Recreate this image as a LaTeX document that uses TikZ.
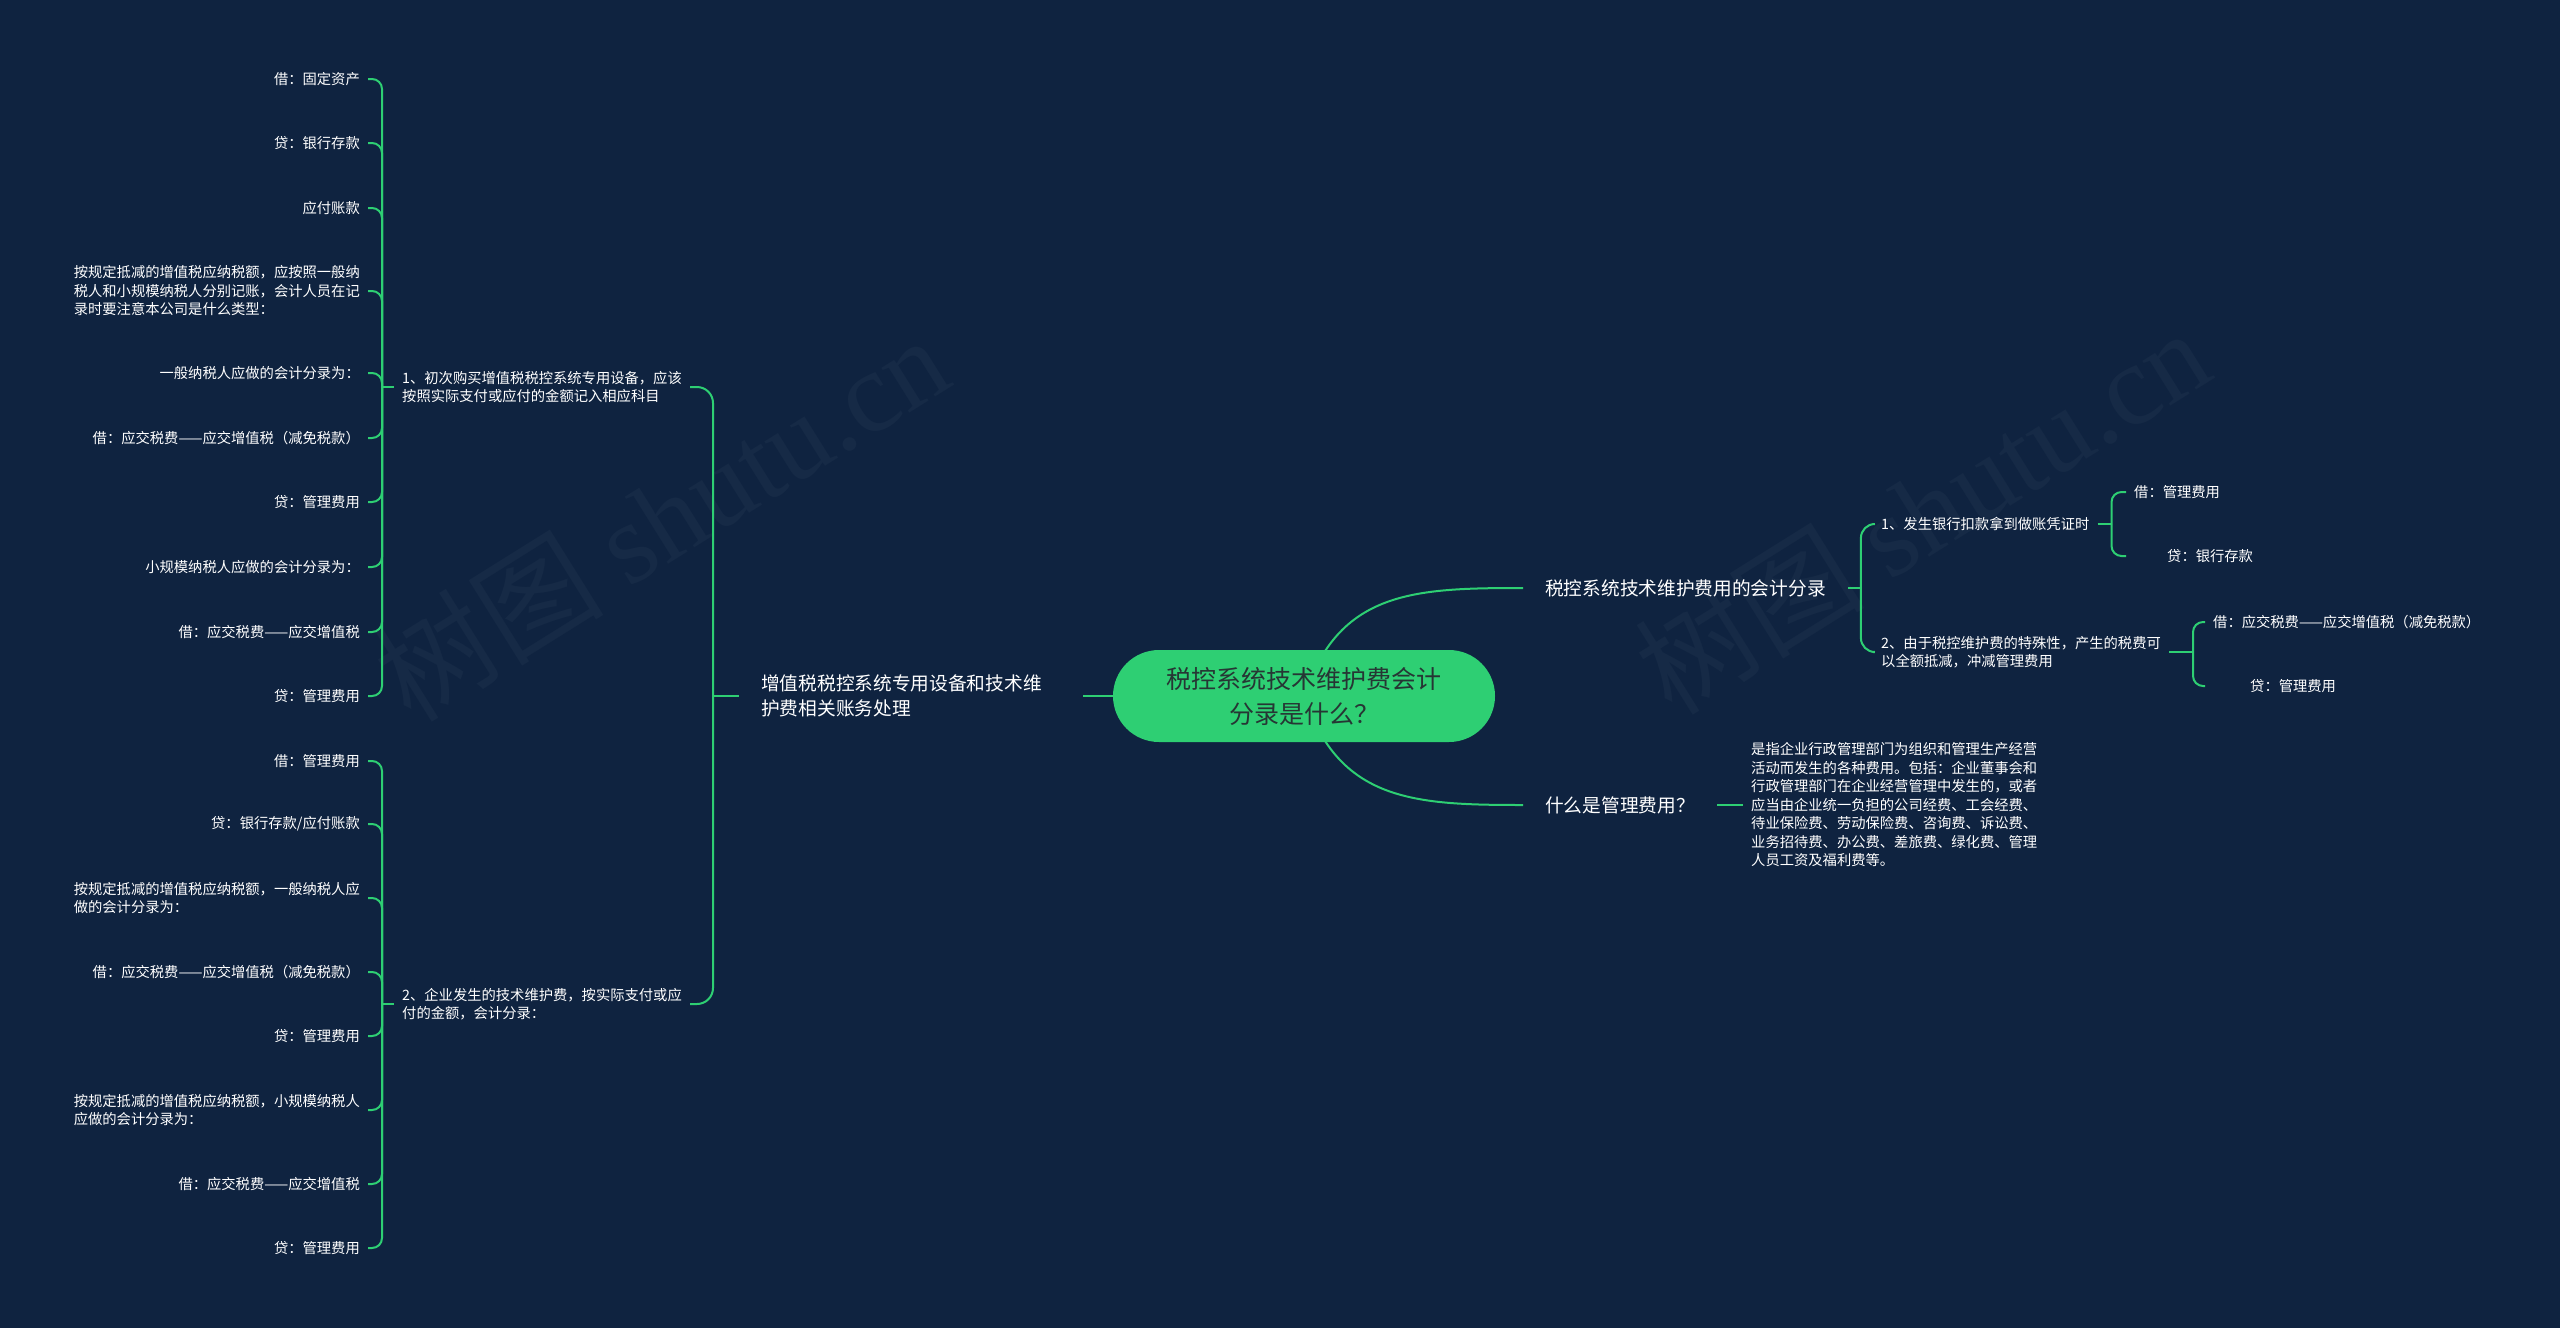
\documentclass[tikz,border=0pt]{standalone}
\usepackage{fontspec}
\setmainfont{Noto Sans CJK SC}
\newfontfamily\wmserif{Liberation Serif}
\usetikzlibrary{backgrounds}
\definecolor{navy}{RGB}{15,35,64}
\definecolor{mint}{RGB}{46,207,115}
\definecolor{inkd}{RGB}{38,54,52}
\definecolor{wmark}{RGB}{22,42,70}

\begin{document}
\begin{tikzpicture}[x=1pt,y=-1pt,
  ln/.style={draw=mint,line width=2pt},
  br/.style={ln,rounded corners=10pt},
  hub/.style={fill=mint,rounded corners=46pt,minimum width=382pt,minimum height=92pt,align=center,text=inkd,font=\fontsize{25}{35}\selectfont},
  t1/.style={text=white,inner xsep=22pt,inner ysep=2pt,align=left,font=\fontsize{18.7}{25}\selectfont},
  t2/.style={text=white,inner xsep=8pt,inner ysep=2pt,align=left,font=\fontsize{14.3}{18.5}\selectfont},
  lf/.style={t2,anchor=east},
  rf/.style={t2,anchor=west},
  wm/.style={text=wmark,rotate=32,font=\fontsize{115}{115}\selectfont}]
  \begin{scope}[on background layer]
    \fill[navy] (0,0) rectangle (2560,1328);
    \node[wm] (w1) at (661,517) {树图 {\wmserif shutu.cn}};
    \node[wm] (w2) at (1922,510) {树图 {\wmserif shutu.cn}};
  \end{scope}
  \node[hub] (c) at (1304,696) {税控系统技术维护费会计\\分录是什么？};
  \node[t1,anchor=west,text width=300pt] (L) at (739,696) {增值税税控系统专用设备和技术维\\护费相关账务处理};
  \node[t1,anchor=west] (R1) at (1523,588) {税控系统技术维护费用的会计分录};
  \node[t1,anchor=west] (R2) at (1523,805) {什么是管理费用？};
  \begin{scope}[on background layer]
    \draw[ln] (c.center) -- (L.east);
    \draw[ln] (c.center) .. controls +(35,-105) and +(-110,0) .. (R1.west);
    \draw[ln] (c.center) .. controls +(35,105) and +(-110,0) .. (R2.west);
  \end{scope}

  \node[t2,anchor=west] (s1) at (394,387) {1、初次购买增值税税控系统专用设备，应该\\按照实际支付或应付的金额记入相应科目};
  \node[t2,anchor=west] (s2) at (394,1004) {2、企业发生的技术维护费，按实际支付或应\\付的金额，会计分录：};
  \draw[ln] (L.west) -- ++(-26,0) coordinate (jL);
  \draw[br,rounded corners=16pt] (jL) |- (s1.east);
  \draw[br,rounded corners=16pt] (jL) |- (s2.east);

  \node[lf] (a1) at (368,79) {借：固定资产};
  \node[lf] (a2) at (368,143) {贷：银行存款};
  \node[lf] (a3) at (368,208) {应付账款};
  \node[lf] (a4) at (368,291) {按规定抵减的增值税应纳税额，应按照一般纳\\税人和小规模纳税人分别记账，会计人员在记\\录时要注意本公司是什么类型：};
  \node[lf] (a5) at (368,373) {一般纳税人应做的会计分录为：};
  \node[lf] (a6) at (368,438) {借：应交税费——应交增值税（减免税款）};
  \node[lf] (a7) at (368,502) {贷：管理费用};
  \node[lf] (a8) at (368,567) {小规模纳税人应做的会计分录为：};
  \node[lf] (a9) at (368,632) {借：应交税费——应交增值税};
  \node[lf] (a10) at (368,696) {贷：管理费用};
  \draw[ln] (s1.west) -- ++(-12,0) coordinate (j1);
  \foreach \i in {1,...,10} \draw[br] (j1) |- (a\i.east);

  \node[lf] (b1) at (368,761) {借：管理费用};
  \node[lf] (b2) at (368,824) {贷：银行存款/应付账款};
  \node[lf] (b3) at (368,898) {按规定抵减的增值税应纳税额，一般纳税人应\\做的会计分录为：};
  \node[lf] (b4) at (368,972) {借：应交税费——应交增值税（减免税款）};
  \node[lf] (b5) at (368,1036) {贷：管理费用};
  \node[lf] (b6) at (368,1110) {按规定抵减的增值税应纳税额，小规模纳税人\\应做的会计分录为：};
  \node[lf] (b7) at (368,1184) {借：应交税费——应交增值税};
  \node[lf] (b8) at (368,1248) {贷：管理费用};
  \draw[ln] (s2.west) -- ++(-12,0) coordinate (j2);
  \foreach \i in {1,...,8} \draw[br] (j2) |- (b\i.east);

  \node[t2,anchor=west] (q1) at (1873,524) {1、发生银行扣款拿到做账凭证时};
  \node[t2,anchor=west] (q2) at (1873,652) {2、由于税控维护费的特殊性，产生的税费可\\以全额抵减，冲减管理费用};
  \draw[ln] (R1.east) -- ++(13,0) coordinate (jR);
  \draw[br,rounded corners=14pt] (jR) |- (q1.west);
  \draw[br,rounded corners=14pt] (jR) |- (q2.west);

  \node[rf] (p1) at (2126,492) {借：管理费用};
  \node[rf] (p2) at (2126,556) {\hspace*{33pt}贷：银行存款};
  \draw[ln] (q1.east) -- ++(14,0) coordinate (jq1);
  \draw[br] (jq1) |- (p1.west);
  \draw[br] (jq1) |- (p2.west);

  \node[rf] (p3) at (2205,622) {借：应交税费——应交增值税（减免税款）};
  \node[rf] (p4) at (2205,686) {\hspace*{37pt}贷：管理费用};
  \draw[ln] (q2.east) -- ++(24,0) coordinate (jq2);
  \draw[br] (jq2) |- (p3.west);
  \draw[br] (jq2) |- (p4.west);

  \node[t2,anchor=west] (d) at (1743,805) {是指企业行政管理部门为组织和管理生产经营\\活动而发生的各种费用。包括：企业董事会和\\行政管理部门在企业经营管理中发生的，或者\\应当由企业统一负担的公司经费、工会经费、\\待业保险费、劳动保险费、咨询费、诉讼费、\\业务招待费、办公费、差旅费、绿化费、管理\\人员工资及福利费等。};
  \draw[ln] (R2.east) -- (d.west);
\end{tikzpicture}
\end{document}
